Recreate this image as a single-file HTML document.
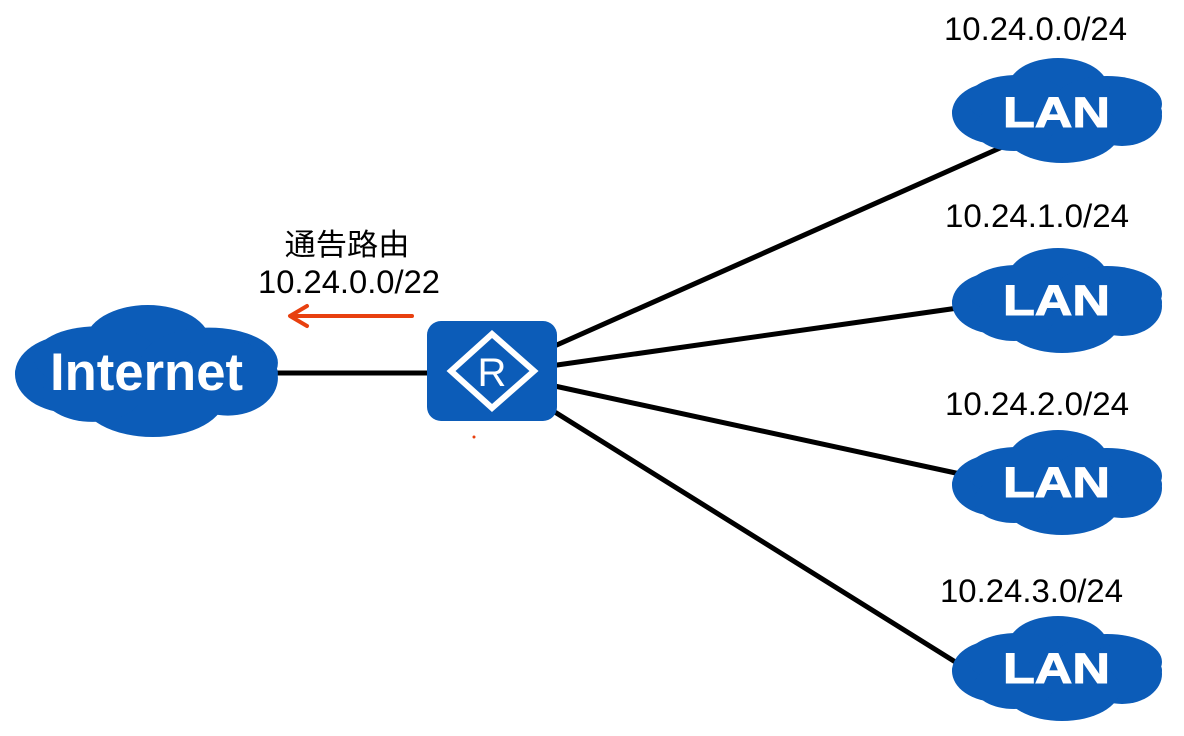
<!DOCTYPE html>
<html>
<head>
<meta charset="utf-8">
<style>
  html,body{margin:0;padding:0;background:#fff;}
  svg{display:block;}
</style>
</head>
<body>
<svg width="1184" height="736" viewBox="0 0 1184 736" xmlns="http://www.w3.org/2000/svg">
  <defs>
    <g id="cloud" fill="#0c5cb8">
      <ellipse cx="105" cy="54" rx="105" ry="27"/>
      <ellipse cx="45" cy="55" rx="45" ry="31"/>
      <ellipse cx="106" cy="30" rx="50" ry="30"/>
      <ellipse cx="65" cy="42" rx="50" ry="25"/>
      <ellipse cx="155" cy="46" rx="55" ry="28"/>
      <ellipse cx="170" cy="58" rx="40" ry="30"/>
      <ellipse cx="110" cy="73" rx="58" ry="32"/>
      <ellipse cx="62" cy="70" rx="40" ry="23"/>
    </g>
  </defs>

  <!-- connectors -->
  <g stroke="#000" stroke-width="5" stroke-linecap="round">
    <line x1="270" y1="373" x2="430" y2="373"/>
    <line x1="550" y1="348" x2="1000" y2="148"/>
    <line x1="550" y1="366" x2="965" y2="307"/>
    <line x1="550" y1="385" x2="965" y2="475"/>
    <line x1="550" y1="409" x2="965" y2="668"/>
  </g>

  <!-- Internet cloud -->
  <g transform="translate(15,305) scale(1.252,1.257)"><use href="#cloud"/></g>
  <text x="50" y="390" textLength="193" lengthAdjust="spacingAndGlyphs" font-family="Liberation Sans, sans-serif" font-weight="bold" font-size="53" fill="#fff">Internet</text>

  <!-- LAN clouds -->
  <g transform="translate(952,58)"><use href="#cloud"/></g>
  <g transform="translate(952,248)"><use href="#cloud"/></g>
  <g transform="translate(952,430)"><use href="#cloud"/></g>
  <g transform="translate(952,616)"><use href="#cloud"/></g>

  <g font-family="Liberation Sans, sans-serif" font-weight="bold" font-size="43" fill="#fff" stroke="#fff" stroke-width="1">
    <text x="1003" y="127" textLength="107" lengthAdjust="spacingAndGlyphs">LAN</text>
    <text x="1003" y="315" textLength="107" lengthAdjust="spacingAndGlyphs">LAN</text>
    <text x="1003" y="497" textLength="107" lengthAdjust="spacingAndGlyphs">LAN</text>
    <text x="1003" y="683" textLength="107" lengthAdjust="spacingAndGlyphs">LAN</text>
  </g>

  <!-- LAN labels -->
  <g font-family="Liberation Sans, sans-serif" font-size="32" fill="#000">
    <text x="944" y="40" textLength="183" lengthAdjust="spacingAndGlyphs">10.24.0.0/24</text>
    <text x="945" y="227" textLength="184" lengthAdjust="spacingAndGlyphs">10.24.1.0/24</text>
    <text x="945" y="415" textLength="184" lengthAdjust="spacingAndGlyphs">10.24.2.0/24</text>
    <text x="940" y="602" textLength="183" lengthAdjust="spacingAndGlyphs">10.24.3.0/24</text>
  </g>

  <!-- Router -->
  <rect x="427" y="321" width="130" height="100" rx="14" ry="14" fill="#0c5cb8"/>
  <polygon points="492,334 534,371 492,408 451,371" fill="none" stroke="#fff" stroke-width="6" stroke-linejoin="miter"/>
  <text x="492" y="386" text-anchor="middle" font-family="Liberation Sans, sans-serif" font-size="40" fill="#fff">R</text>

  <!-- Annotation -->
  <text x="347" y="255" text-anchor="middle" font-family="Liberation Sans, 'Noto Sans CJK SC', sans-serif" font-size="30" fill="#000" textLength="125" lengthAdjust="spacingAndGlyphs">通告路由</text>
  <text x="258" y="293" font-family="Liberation Sans, sans-serif" font-size="32" fill="#000" textLength="182" lengthAdjust="spacingAndGlyphs">10.24.0.0/22</text>

  <!-- red arrow -->
  <g stroke="#e8400f" stroke-width="4" fill="none" stroke-linecap="round" stroke-linejoin="round">
    <line x1="412" y1="316" x2="291" y2="316"/>
    <polyline points="307,306 290,316 307,326"/>
  </g>

  <!-- small red dot -->
  <circle cx="474" cy="437" r="1.5" fill="#e8400f"/>
</svg>
</body>
</html>
